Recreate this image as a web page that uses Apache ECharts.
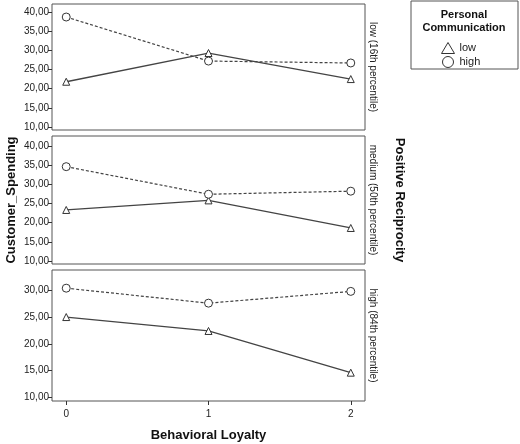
<!DOCTYPE html><html><head><meta charset="utf-8"><script src="https://cdn.jsdelivr.net/npm/echarts@6/dist/echarts.min.js"></script>
<style>body{margin:0}#c{width:520px;height:444px}</style></head><body><div id="c"></div><script>
const xs=[0,1,2];
const panels=['low (16th percentile)','medium (50th percentile)','high (84th percentile)'];
const lowVals=[[21.8,29.3,22.5],[23.3,25.8,18.6],[25.0,22.4,14.6]];
const highVals=[[38.7,27.2,26.7],[34.6,27.4,28.2],[30.4,27.6,29.8]];
const yTicks=[[10,15,20,25,30,35,40],[10,15,20,25,30,35,40],[10,15,20,25,30]];
const fmt=v=>v.toFixed(2).replace('.',',');
const tops=[4,136,270],hs=[126,128,131],mins=[9.2,9.2,9.3],maxs=[42.1,42.6,33.8];
const F='Arial, Liberation Sans, sans-serif';
const grid=[],xAxis=[],yAxis=[],series=[],graphic=[];
for(let i=0;i<3;i++){
 grid.push({left:52,width:313,top:tops[i],height:hs[i],show:true,borderColor:'#555',borderWidth:1});
 xAxis.push({type:'value',gridIndex:i,min:-0.1,max:2.1,splitLine:{show:false},axisLine:{show:false,onZero:false},
  axisTick:{show:i==2,customValues:xs,length:4,lineStyle:{color:'#333'}},axisLabel:{show:i==2,customValues:xs,color:'#222',fontFamily:F,fontSize:10},
  name:i==2?'Behavioral Loyalty':'',nameLocation:'middle',nameGap:28,nameTextStyle:{fontWeight:'bold',fontSize:13,color:'#111',fontFamily:F}});
 yAxis.push({type:'value',gridIndex:i,min:mins[i],max:maxs[i],splitLine:{show:false},axisLine:{show:false,onZero:false},
  axisTick:{show:true,customValues:yTicks[i],length:4,lineStyle:{color:'#333'}},axisLabel:{customValues:yTicks[i],formatter:fmt,color:'#222',fontFamily:F,fontSize:10,margin:3}});
 series.push({name:'low',type:'line',xAxisIndex:i,yAxisIndex:i,data:xs.map((x,j)=>[x,lowVals[i][j]]),symbol:'triangle',symbolSize:7,
  lineStyle:{color:'#444',width:1.3},itemStyle:{color:'#fff',borderColor:'#333',borderWidth:1},emphasis:{disabled:true}});
 series.push({name:'high',type:'line',xAxisIndex:i,yAxisIndex:i,data:xs.map((x,j)=>[x,highVals[i][j]]),symbol:'circle',symbolSize:8,
  lineStyle:{color:'#444',width:1.2,type:[3,2]},itemStyle:{color:'#fff',borderColor:'#333',borderWidth:1},emphasis:{disabled:true}});
 graphic.push({type:'text',x:368,y:tops[i]+hs[i]/2,rotation:-Math.PI/2,style:{text:panels[i],fontSize:10,fontFamily:F,fill:'#222',align:'center',verticalAlign:'bottom'}});
}
graphic.push({type:'text',x:5,y:200,rotation:Math.PI/2,style:{text:'Customer_Spending',fontSize:13,fontWeight:'bold',fontFamily:F,fill:'#111',align:'center',verticalAlign:'top'}});
graphic.push({type:'text',x:406,y:200,rotation:-Math.PI/2,style:{text:'Positive Reciprocity',fontSize:13,fontWeight:'bold',fontFamily:F,fill:'#111',align:'center',verticalAlign:'top'}});
graphic.push({type:'rect',shape:{x:411,y:1,width:107,height:68},style:{fill:'#fff',stroke:'#555',lineWidth:1}});
graphic.push({type:'text',x:464,y:8,style:{text:'Personal\nCommunication',fontSize:11,fontWeight:'bold',fontFamily:F,fill:'#111',align:'center',lineHeight:13}});
echarts.init(document.getElementById('c')).setOption({animation:false,grid,xAxis,yAxis,series,graphic,
 legend:{left:436,top:37,orient:'vertical',itemGap:2,itemWidth:13,itemHeight:11,z:100,textStyle:{fontSize:11,fontFamily:F,color:'#222'},
 data:[{name:'low',icon:'triangle',itemStyle:{color:'#fff',borderColor:'#333',borderWidth:1}},{name:'high',icon:'circle',itemStyle:{color:'#fff',borderColor:'#333',borderWidth:1}}]}});
</script></body></html>
